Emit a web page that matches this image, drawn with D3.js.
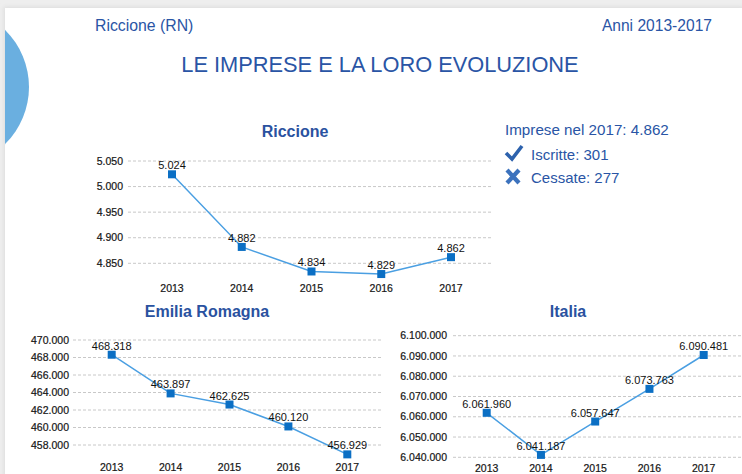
<!DOCTYPE html>
<html>
<head>
<meta charset="utf-8">
<script src="https://cdn.jsdelivr.net/npm/d3@7"></script>
<style>
  body { margin: 0; background: #efefef; }
  svg { display: block; font-family: "Liberation Sans", Arial, sans-serif; }
</style>
</head>
<body>
<svg id="chart" width="742" height="474"></svg>
<script>
// anni e valori (numero di imprese)
var years = ["2013", "2014", "2015", "2016", "2017"];
var riccione = [5024, 4882, 4834, 4829, 4862];
var emilia = [468318, 463897, 462625, 460120, 456929];
var italia = [6061960, 6041187, 6057647, 6073763, 6090481];

var riccioneTicks = [4850, 4900, 4950, 5000, 5050];
var emiliaTicks = [458000, 460000, 462000, 464000, 466000, 468000, 470000];
var italiaTicks = [6040000, 6050000, 6060000, 6070000, 6080000, 6090000, 6100000];

var info = ["Imprese nel 2017: 4.862", "Iscritte: 301", "Cessate: 277"];

var it = d3.formatLocale({decimal: ",", thousands: ".", grouping: [3], currency: ["€", ""]});
var fmt = it.format(",d");

var blue = "#2a55a5";

var svg = d3.select("#chart");

// sfondo e cartoncino bianco
var defs = svg.append("defs");
defs.append("clipPath").attr("id", "card")
    .append("rect").attr("x", 5).attr("y", 8).attr("width", 737).attr("height", 466);

var sh = defs.append("filter").attr("id", "shadow")
    .attr("x", "-5%").attr("y", "-5%").attr("width", "110%").attr("height", "110%");
sh.append("feGaussianBlur").attr("stdDeviation", 2);

svg.append("rect").attr("width", 742).attr("height", 474).attr("fill", "#eeeeee");
svg.append("rect").attr("x", 4).attr("y", 7).attr("width", 740).attr("height", 470)
    .attr("fill", "#dcdcdc").attr("filter", "url(#shadow)");
svg.append("rect").attr("x", 5).attr("y", 8).attr("width", 737).attr("height", 466)
    .attr("fill", "#fff");

svg.append("circle").attr("clip-path", "url(#card)")
    .attr("cx", -51).attr("cy", 87).attr("r", 80)
    .attr("fill", "#6aafe0");

// intestazione
svg.append("text").attr("x", 95).attr("y", 31)
    .attr("font-size", 15.8).attr("fill", blue)
    .text("Riccione (RN)");
svg.append("text").attr("x", 712).attr("y", 31)
    .attr("text-anchor", "end")
    .attr("font-size", 15.6).attr("fill", blue)
    .text("Anni 2013-2017");
svg.append("text").attr("x", 380).attr("y", 72)
    .attr("text-anchor", "middle")
    .attr("font-size", 21.8).attr("fill", blue)
    .text("LE IMPRESE E LA LORO EVOLUZIONE");

// riquadro informativo
svg.append("text").attr("x", 505).attr("y", 135)
    .attr("font-size", 15.2).attr("fill", blue).text(info[0]);
svg.append("text").attr("x", 531).attr("y", 160)
    .attr("font-size", 15).attr("fill", blue).text(info[1]);
svg.append("text").attr("x", 531).attr("y", 183)
    .attr("font-size", 15).attr("fill", blue).text(info[2]);

svg.append("path")
    .attr("d", "M506,153 L512,159 L522,146")
    .attr("fill", "none").attr("stroke", "#2d62ad")
    .attr("stroke-width", 3.6).attr("stroke-linejoin", "miter");
svg.append("path")
    .attr("d", "M507,170 L519,183 M519,170 L507,183")
    .attr("fill", "none").attr("stroke", "#3c72bd")
    .attr("stroke-width", 4.2);

function drawChart(opt) {
    var g = svg.append("g");

    var x = d3.scalePoint().domain(years).range(opt.xr);
    var y = d3.scaleLinear().domain(opt.yd).range(opt.yr);

    g.append("text")
        .attr("x", opt.titleX).attr("y", opt.titleY)
        .attr("text-anchor", "middle")
        .attr("font-size", 16).attr("font-weight", "bold")
        .attr("fill", "#2a52a0")
        .text(opt.title);

    // griglia
    g.selectAll(".grid").data(opt.ticks).enter()
        .append("line")
        .attr("x1", opt.gx[0]).attr("x2", opt.gx[1])
        .attr("y1", function(d){ return y(d); })
        .attr("y2", function(d){ return y(d); })
        .attr("stroke", "#c8c8c8")
        .attr("stroke-dasharray", "3,2")
        .attr("stroke-width", 1);

    g.selectAll(".ylab").data(opt.ticks).enter()
        .append("text")
        .attr("x", opt.labX)
        .attr("y", function(d){ return y(d); })
        .attr("dy", "0.35em")
        .attr("text-anchor", "end")
        .attr("font-size", 10.5).attr("fill", "#151515")
        .attr("stroke", "#151515").attr("stroke-width", 0.2)
        .text(function(d){ return fmt(d); });

    g.selectAll(".xlab").data(years).enter()
        .append("text")
        .attr("x", function(d){ return x(d); })
        .attr("y", opt.yearY)
        .attr("text-anchor", "middle")
        .attr("font-size", 10.5).attr("fill", "#151515")
        .attr("stroke", "#151515").attr("stroke-width", 0.2)
        .text(function(d){ return d; });

    var line = d3.line()
        .x(function(d, i){ return x(years[i]); })
        .y(function(d){ return y(d); });

    g.append("path").datum(opt.values)
        .attr("d", line)
        .attr("fill", "none")
        .attr("stroke", "#4a9fe2")
        .attr("stroke-width", 1.5);

    g.selectAll(".pt").data(opt.values).enter()
        .append("rect")
        .attr("x", function(d, i){ return x(years[i]) - 4; })
        .attr("y", function(d){ return y(d) - 4; })
        .attr("width", 8).attr("height", 8)
        .attr("fill", "#0b6fc4");

    g.selectAll(".val").data(opt.values).enter()
        .append("text")
        .attr("x", function(d, i){ return x(years[i]); })
        .attr("y", function(d){ return y(d) - 5; })
        .attr("text-anchor", "middle")
        .attr("font-size", 11).attr("fill", "#111")
        .text(function(d){ return fmt(d); });
}

drawChart({
    title: "Riccione", titleX: 295, titleY: 137,
    values: riccione, ticks: riccioneTicks,
    xr: [172, 451], yd: [4850, 5050], yr: [263.3, 161],
    gx: [128, 492], labX: 123, yearY: 292
});

drawChart({
    title: "Emilia Romagna", titleX: 207, titleY: 317,
    values: emilia, ticks: emiliaTicks,
    xr: [111.7, 347.3], yd: [458000, 470000], yr: [445, 340],
    gx: [73, 383], labX: 69, yearY: 471
});

drawChart({
    title: "Italia", titleX: 568, titleY: 317,
    values: italia, ticks: italiaTicks,
    xr: [486.7, 703.7], yd: [6040000, 6100000], yr: [457.3, 335.7],
    gx: [453, 742], labX: 447, yearY: 472
});
</script>
</body>
</html>
